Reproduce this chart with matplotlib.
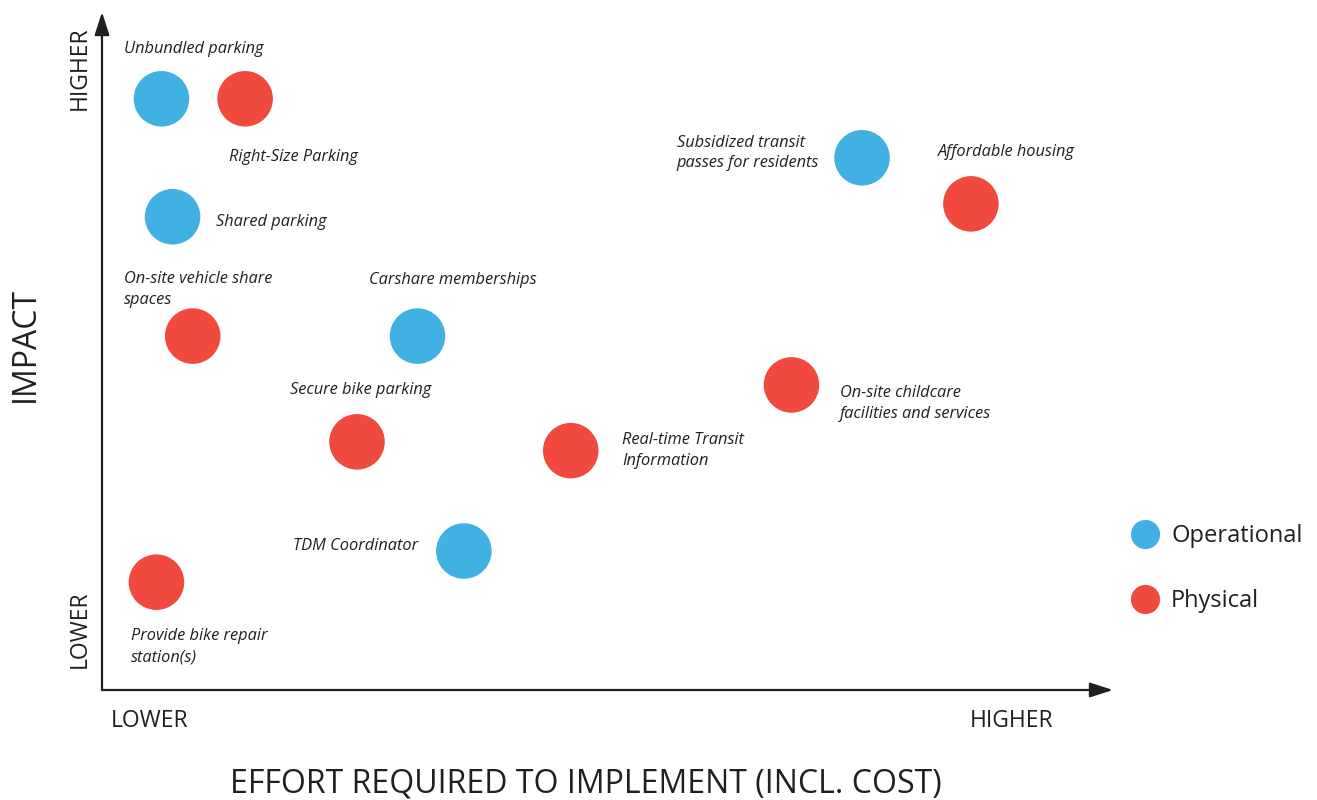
import matplotlib.pyplot as plt
from matplotlib.lines import Line2D

BLUE = "#41b0e3"
RED = "#ef4a3d"
INK = "#231f20"

# Effort (0-100) vs impact (0-100)
names = [
    "Unbundled parking", "Right-Size Parking", "Shared parking",
    "On-site vehicle share\nspaces", "Carshare memberships",
    "Secure bike parking", "Real-time Transit\nInformation",
    "On-site childcare\nfacilities and services",
    "Subsidized transit\npasses for residents", "Affordable housing",
    "TDM Coordinator", "Provide bike repair\nstation(s)",
]
effort = [5.9, 14.2, 7.0, 9.0, 31.3, 25.3, 46.5, 68.4, 75.4, 86.2, 35.9, 5.4]
impact = [87.2, 87.2, 69.8, 52.2, 52.2, 36.6, 35.3, 45.0, 78.5, 71.7, 20.5, 15.9]
kind = ["Operational", "Physical", "Operational", "Physical", "Operational",
        "Physical", "Physical", "Physical", "Operational", "Physical",
        "Operational", "Physical"]
# label anchor (left edge, vertical centre) per point
label_x = [2.2, 12.6, 11.3, 2.2, 26.5, 18.7, 51.6, 73.2, 57.0, 82.9, 18.9, 2.9]
label_y = [94.6, 78.6, 69.0, 59.1, 60.4, 44.2, 35.3, 42.2, 79.2, 79.4, 21.3, 6.4]

COLORS = {"Operational": BLUE, "Physical": RED}

plt.rcParams["font.family"] = ["Open Sans", "DejaVu Sans"]

fig = plt.figure(figsize=(13.17, 8), dpi=100)
ax = fig.add_axes([102 / 1317, 110 / 800, 1008 / 1317, 678 / 800])
ax.set_xlim(0, 100)
ax.set_ylim(0, 100)
for s in ax.spines.values():
    s.set_visible(False)
ax.set_xticks([])
ax.set_yticks([])

ax.scatter(effort, impact, s=1600, c=[COLORS[k] for k in kind],
           linewidths=0, zorder=3, clip_on=False)

for name, lx, ly in zip(names, label_x, label_y):
    ax.text(lx, ly, name, fontsize=11.8, style="italic", color=INK,
            ha="left", va="center", linespacing=1.4)

# axis arrows
arrow = dict(arrowstyle="-|>,head_length=1.4,head_width=0.45", color=INK,
             lw=1.6, shrinkA=0, shrinkB=0)
ax.annotate("", xy=(0, 1.0), xytext=(0, 0), xycoords="axes fraction",
            arrowprops=arrow)
ax.annotate("", xy=(1.003, 0), xytext=(0, 0), xycoords="axes fraction",
            arrowprops=arrow)

# axis end labels
ax.text(-0.022, 0.917, "HIGHER", transform=ax.transAxes, rotation=90,
        fontsize=16.5, ha="center", va="center", color=INK)
ax.text(-0.022, 0.09, "LOWER", transform=ax.transAxes, rotation=90,
        fontsize=16.5, ha="center", va="center", color=INK)
ax.text(0.047, -0.045, "LOWER", transform=ax.transAxes,
        fontsize=16.5, ha="center", va="center", color=INK)
ax.text(0.902, -0.045, "HIGHER", transform=ax.transAxes,
        fontsize=16.5, ha="center", va="center", color=INK)

ax.set_ylabel("IMPACT", fontsize=23, color=INK)
ax.set_xlabel("EFFORT REQUIRED TO IMPLEMENT (INCL. COST)", fontsize=23,
              color=INK)
ax.xaxis.set_label_coords(0.48, -0.114)
ax.yaxis.set_label_coords(-0.06, 0.51)

handles = [Line2D([], [], marker="o", ls="", ms=21, mew=0,
                  color=COLORS[k], label=k) for k in ["Operational", "Physical"]]
ax.legend(handles=handles, loc="center left", bbox_to_anchor=(1.002, 0.179),
          frameon=False, fontsize=17, labelspacing=1.75, handletextpad=0.6,
          handlelength=1.0, labelcolor=INK)

fig.savefig("out.png", dpi=100)
